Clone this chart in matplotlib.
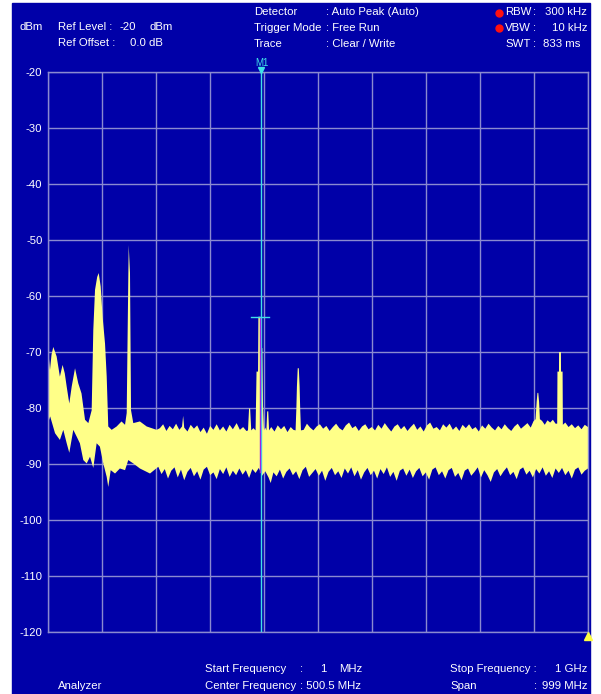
import matplotlib
matplotlib.use("Agg")
import matplotlib.pyplot as plt
import numpy as np

# figure size in pixels
W, H = 601, 694

# --- trace data (spectrum analyser screenshot, 1 MHz .. 1 GHz) ---
# upper envelope of the yellow trace
upper_mhz = [
    1, 4.7, 7.5, 10.8, 17, 23, 28, 32, 35.6, 40.4, 44.8, 51, 57, 63, 69.5,
    75.6, 81.8, 84.8, 88, 92, 94.8, 98.5, 102, 106.5, 109.6, 112.5, 118.8,
    128, 137, 143.5, 146.6, 148.4, 150.3, 152.7, 154.6, 158.8, 171, 183.6,
    202, 208, 214, 220, 226, 232, 238, 244, 249, 251, 253, 259, 265, 271,
    277, 283, 289, 295, 301, 307, 313, 319, 325, 331, 337, 343, 350, 356,
    362, 368, 371, 373, 375, 377, 381, 385, 386.8, 389.6, 390.2, 393.3,
    394.5, 397.5, 398.8, 400.6, 403, 405, 406.5, 408.5, 410, 414, 420, 426,
    432, 438, 444, 450, 455, 459, 460.5, 461.5, 463, 465, 466.5, 467.5, 469,
    474, 480, 486, 492, 498, 504, 510, 516, 522, 528, 534, 540, 546, 552,
    558, 564, 570, 576, 582, 588, 594, 600, 606, 612, 618, 624, 630, 636,
    642, 648, 654, 660, 666, 672, 678, 684, 690, 696, 702, 708, 714, 720,
    726, 732, 738, 744, 750, 756, 762, 768, 774, 780, 786, 792, 798, 804,
    810, 816, 822, 828, 834, 840, 846, 852, 858, 864, 870, 876, 882, 888,
    894, 899, 903, 905, 906.5, 908, 909.5, 911, 915, 920, 925, 930, 935,
    940, 943, 943.5, 946.3, 946.5, 949.9, 950.1, 953, 953.5, 958, 964, 970,
    976, 982, 988, 994, 1000,
]
upper_dbm = [
    -69.3, -73.2, -70.5, -69.1, -70.8, -74.4, -72.3, -73.8, -76.2, -79.2,
    -76.2, -72.9, -75.6, -77.4, -82.1, -82.7, -80.4, -66.1, -58.9, -56.6,
    -55.9, -58.3, -63.7, -68.5, -74.4, -83.3, -83.9, -83.3, -82.4, -83.0,
    -80.9, -66.1, -50.9, -55.9, -80.4, -82.7, -82.4, -83.3, -83.9, -83.6,
    -82.9, -84.1, -83.2, -83.8, -82.8, -83.9, -83.3, -81.4, -83.5, -84.2,
    -83.0, -83.7, -83.1, -84.3, -83.5, -84.6, -83.2, -83.9, -82.9, -84.0,
    -83.3, -84.2, -83.0, -83.8, -82.7, -83.9, -83.4, -84.1, -84.0, -80.0,
    -80.2, -84.0, -83.6, -84.0, -73.5, -73.5, -63.7, -63.7, -69.3, -69.3,
    -79.6, -84.0, -83.5, -84.0, -80.6, -80.6, -84.0, -83.4, -84.2, -83.1,
    -83.8, -83.2, -84.3, -83.4, -83.9, -84.0, -80.0, -76.2, -72.9, -72.9,
    -76.2, -80.0, -84.0, -83.9, -82.8, -83.5, -84.0, -83.3, -82.9, -83.7,
    -83.2, -84.1, -83.4, -82.8, -83.6, -84.0, -83.1, -82.6, -83.6, -83.2,
    -84.1, -83.3, -82.9, -83.8, -83.4, -84.0, -83.0, -83.7, -82.7, -83.5,
    -84.2, -83.3, -82.9, -83.8, -83.2, -84.1, -83.4, -82.8, -83.9, -83.3,
    -84.2, -83.1, -82.6, -83.7, -83.4, -84.0, -82.9, -83.5, -82.8, -83.9,
    -83.3, -84.1, -83.0, -83.6, -82.9, -83.8, -83.4, -84.2, -83.1, -83.7,
    -82.8, -83.5, -84.0, -83.2, -83.8, -82.9, -83.6, -84.1, -83.3, -82.8,
    -83.7, -83.2, -82.7, -83.5, -82.4, -82.0, -78.9, -77.3, -77.3, -78.9,
    -82.0, -82.3, -83.0, -82.2, -82.6, -82.1, -82.8, -82.8, -73.5, -73.5,
    -70.0, -70.0, -73.5, -73.5, -83.0, -82.6, -83.4, -82.9, -83.6, -83.1,
    -83.8, -83.0, -83.4,
]

# lower envelope of the yellow trace
lower_mhz = [
    1, 5, 14, 23, 29.3, 35.6, 40.4, 47.8, 54, 60, 66.3, 72.6, 78.7, 84.8,
    91, 97, 103.3, 109.6, 112.5, 117, 125, 134, 143.5, 149.5, 158.8, 171,
    189.7, 205, 211, 217, 223, 229, 235, 241, 247, 253, 259, 265, 271, 277,
    283, 289, 295, 301, 307, 313, 319, 325, 331, 337, 343, 349, 355, 361,
    367, 373, 379, 385, 391, 397, 403, 409, 413, 418, 424, 430, 436, 442,
    448, 454, 460, 466, 472, 478, 484, 490, 496, 502, 508, 514, 520, 526,
    532, 538, 544, 550, 556, 562, 568, 574, 580, 586, 592, 598, 604, 610,
    616, 622, 628, 634, 640, 646, 652, 658, 664, 670, 676, 682, 688, 694,
    700, 706, 712, 718, 724, 730, 736, 742, 748, 754, 760, 766, 772, 778,
    784, 790, 796, 802, 808, 814, 820, 826, 832, 838, 844, 850, 856, 862,
    868, 874, 880, 886, 892, 898, 904, 910, 916, 922, 928, 934, 940, 946,
    952, 958, 964, 970, 976, 982, 988, 994, 1000,
]
lower_dbm = [
    -82.7, -81.5, -84.5, -85.7, -83.9, -86.3, -88.0, -83.9, -85.1, -86.3,
    -89.3, -89.9, -88.7, -90.7, -86.3, -86.9, -89.9, -92.3, -94.1, -91.1,
    -91.7, -90.8, -91.1, -89.3, -89.9, -90.8, -91.7, -90.5, -91.8, -90.9,
    -92.6, -91.2, -90.6, -92.4, -91.0, -92.9, -91.4, -90.7, -92.2, -91.3,
    -92.8, -91.0, -90.5, -92.0, -91.5, -92.7, -90.9, -91.8, -90.6, -92.3,
    -91.2, -92.0, -90.8, -91.9, -91.1, -92.5, -90.9, -91.6, -90.7, -92.1,
    -91.3, -92.4, -93.4, -91.5, -92.2, -91.0, -92.6, -91.4, -90.8, -92.0,
    -91.3, -92.7, -91.1, -90.5, -92.3, -91.6, -90.9, -92.1, -91.2, -93.0,
    -91.4, -90.7, -92.0, -91.3, -92.5, -90.8, -91.7, -90.6, -92.2, -91.1,
    -92.8, -91.5, -90.7, -92.0, -91.2, -92.6, -90.9, -91.8, -90.6, -92.3,
    -91.4, -93.0, -91.2, -90.8, -92.1, -91.0, -92.5, -91.3, -90.7, -92.2,
    -91.5, -92.8, -91.0, -90.6, -92.0, -91.3, -92.6, -91.1, -90.7, -92.3,
    -91.6, -92.9, -91.2, -90.8, -92.1, -91.4, -90.6, -92.4, -91.1, -92.0,
    -93.2, -91.5, -90.9, -92.2, -91.3, -90.6, -92.0, -91.4, -92.7, -91.0,
    -90.6, -91.9, -91.2, -92.4, -90.9, -91.7, -90.6, -92.1, -91.3, -92.5,
    -90.8, -91.6, -90.7, -92.0, -91.2, -92.6, -91.0, -90.6, -91.9, -91.2,
    -90.8,
]

# marker M1
marker_mhz = 393.5
marker_dbm = -63.7
marker_floor_dbm = -91.5

y_ticks = [-20, -30, -40, -50, -60, -70, -80, -90, -100, -110, -120]
x_start, x_stop = 1, 1000

# --- colours ---
BG = "#0000A8"
GRID = "#8A8AD0"
TRACE = "#FFFF88"
CYAN = "#40E0E8"
PURPLE = "#A020E0"
WHITE = "white"

plt.rcParams["font.family"] = ["Liberation Sans Narrow", "Liberation Sans", "DejaVu Sans"]
FS = 8.2

fig = plt.figure(figsize=(W / 100, H / 100), dpi=100, facecolor="white")

# blue screen background (behind the axes)
fig.patches.append(plt.Rectangle((12 / W, 0), 578 / W, (H - 3) / H,
                                 transform=fig.transFigure, color=BG, zorder=-5))


def px(x, y):
    """pixel position (from top-left) -> figure fraction"""
    return x / W, 1 - y / H


def label(x, y, s, ha="left", color=WHITE, size=FS):
    fig.text(*px(x, y), s, ha=ha, va="center", color=color, fontsize=size)


ax = fig.add_axes([48 / W, 1 - 632 / H, 540 / W, 560 / H])
ax.set_zorder(1)
ax.set_facecolor(BG)
ax.set_xlim(x_start, x_stop)
ax.set_ylim(-120, -20)

# grid, 10 x 10 divisions
ax.set_xticks(np.linspace(x_start, x_stop, 11))
ax.set_yticks(y_ticks)
ax.set_xticklabels([])
ax.set_yticklabels([str(t) for t in y_ticks])
ax.tick_params(axis="both", length=0, colors=WHITE, labelsize=FS)
ax.tick_params(axis="y", pad=4)
ax.grid(True, color=GRID, lw=1.0)
ax.set_axisbelow(True)
for sp in ax.spines.values():
    sp.set_color(GRID)
    sp.set_linewidth(1.0)

# trace as filled band between envelopes
poly_x = np.concatenate([upper_mhz, lower_mhz[::-1]])
poly_y = np.concatenate([upper_dbm, lower_dbm[::-1]])
ax.fill(poly_x, poly_y, color=TRACE, lw=0, zorder=2)

# marker line, peak line and crosshair
ax.axvline(marker_mhz + 1.2, color=CYAN, lw=1.0, zorder=3)
ax.plot([marker_mhz - 0.8, marker_mhz - 0.8], [marker_dbm, marker_floor_dbm],
        color=PURPLE, lw=1.0, zorder=4)
ax.plot([marker_mhz - 17, marker_mhz + 17], [marker_dbm, marker_dbm],
        color=CYAN, lw=1.0, zorder=4)

# M1 label above the grid
label(262, 63, "M1", ha="center", color=CYAN, size=7)
fig.lines.append(plt.Line2D([261 / W], [1 - 70 / H], marker="v", ms=4,
                            color=CYAN, transform=fig.transFigure))

# stop-frequency triangle
fig.lines.append(plt.Line2D([588 / W], [1 - 636 / H], marker="^", ms=6,
                            color="#FFFF40", transform=fig.transFigure))

# --- header ---
label(20, 27, "dBm")
label(58, 27, "Ref Level :")
label(120, 27, "-20")
label(149, 27, "dBm")
label(58, 43, "Ref Offset :")
label(130, 43, "0.0 dB")

label(254, 12, "Detector")
label(254, 28, "Trigger Mode")
label(254, 44, "Trace")
label(326, 12, ": Auto Peak (Auto)")
label(326, 28, ": Free Run")
label(326, 44, ": Clear / Write")

for yy in (13, 28):
    fig.lines.append(plt.Line2D([499 / W], [1 - yy / H], marker="o", ms=5,
                                color="#FF1010", transform=fig.transFigure))
label(531, 12, "RBW", ha="right")
label(533, 12, ":")
label(587, 12, "300 kHz", ha="right")
label(531, 28, "VBW", ha="right")
label(533, 28, ":")
label(587, 28, "10 kHz", ha="right")
label(531, 44, "SWT", ha="right")
label(533, 44, ":")
label(580, 44, "833 ms", ha="right")

# --- footer ---
label(58, 686, "Analyzer")
label(205, 669, "Start Frequency")
label(300, 669, ":")
label(320, 669, "1")
label(339, 669, "MHz")
label(205, 686, "Center Frequency")
label(300, 686, ": 500.5 MHz")
label(450, 669, "Stop Frequency :")
label(587, 669, "1 GHz", ha="right")
label(450, 686, "Span")
label(534, 686, ":")
label(587, 686, "999 MHz", ha="right")

fig.savefig("out.png", dpi=100, facecolor="white")
